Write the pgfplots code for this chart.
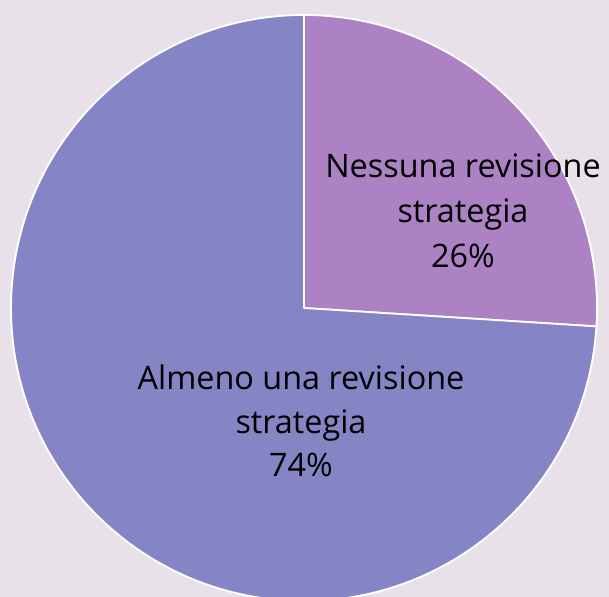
\documentclass[border=0pt]{standalone}
\usepackage{pgfplots}
\pgfplotsset{compat=1.18}
\usetikzlibrary{calc}
\usepackage{fontspec}
\setmainfont{Open Sans}
\definecolor{bgc}{HTML}{E8E1EA}
\definecolor{slicea}{HTML}{AD82C4}
\definecolor{sliceb}{HTML}{8585C6}
% data: share in percent
\def\valA{26}% Nessuna revisione strategia
\def\valB{74}% Almeno una revisione strategia
\begin{document}
\begin{tikzpicture}
\begin{axis}[
  x=1bp, y=1bp,
  xmin=0, xmax=609, ymin=0, ymax=597,
  hide axis, scale only axis,
  clip=true,
]
\fill[bgc] (axis cs:0,0) rectangle (axis cs:609,597);
\pgfmathsetmacro{\angA}{90-3.6*\valA}
\pgfmathsetmacro{\angB}{\angA-3.6*\valB}
\filldraw[fill=slicea, draw=white, line width=1.8pt, line join=round]
  (axis cs:304,289) -- (axis cs:304,582) arc[start angle=90, end angle=\angA, radius=293bp] -- cycle;
\filldraw[fill=sliceb, draw=white, line width=1.8pt, line join=round]
  (axis cs:304,289) -- ($(axis cs:304,289)+(\angA:293bp)$) arc[start angle=\angA, end angle=\angB, radius=293bp] -- cycle;
\node[align=center, font=\fontsize{32.5}{45}\selectfont, text=black] at (axis cs:463,386) {Nessuna revisione\\strategia\\26\%};
\node[align=center, font=\fontsize{32.5}{44}\selectfont, text=black] at (axis cs:301,176) {Almeno una revisione\\strategia\\74\%};
\end{axis}
\pgfresetboundingbox
\path (current axis.south west) rectangle (current axis.north east);
\end{tikzpicture}
\end{document}
